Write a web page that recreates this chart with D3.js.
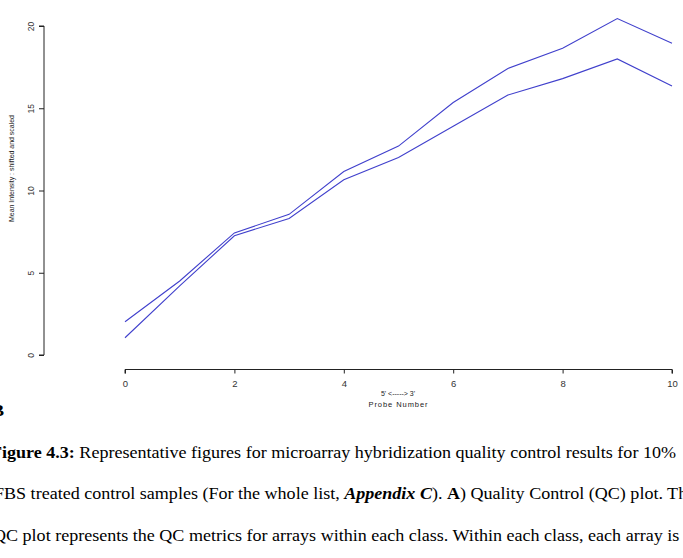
<!DOCTYPE html>
<html>
<head>
<meta charset="utf-8">
<script src="https://cdn.jsdelivr.net/npm/d3@7"></script>
<style>
  html, body { margin: 0; padding: 0; background: #fff; overflow: hidden; }
  svg { display: block; }
</style>
</head>
<body>
<svg id="chart" width="683" height="558"></svg>
<script>
// ---- data ----
const probeNumbers = [0, 1, 2, 3, 4, 5, 6, 7, 8, 9, 10];
const seriesUpper = [2.02, 4.5, 7.42, 8.55, 11.15, 12.7, 15.35, 17.42, 18.65, 20.45, 18.95];
const seriesLower = [1.05, 4.2, 7.25, 8.3, 10.65, 12.0, 13.9, 15.8, 16.8, 18.0, 16.35];
const xTicks = [0, 2, 4, 6, 8, 10];
const yTicks = [0, 5, 10, 15, 20];
const yTitle = "Mean Intensity : shifted and scaled";
const xTitle1 = "5' <-----> 3'";
const xTitle2 = "Probe Number";
const captionLines = [
  [{t: "Figure 4.3:", b: true}, {t: " Representative figures for microarray hybridization quality control results for 10%"}],
  [{t: "FBS treated control samples (For the whole list, "}, {t: "Appendix C", b: true, i: true}, {t: "). "}, {t: "A", b: true}, {t: ") Quality Control (QC) plot. The"}],
  [{t: "QC plot represents the QC metrics for arrays within each class. Within each class, each array is"}]
];

const svg = d3.select("#chart");
const x = d3.scaleLinear().domain([0, 10]).range([125, 672]);
const y = d3.scaleLinear().domain([0, 20]).range([355, 26]);

const sans = "Liberation Sans, Arial, sans-serif";

// y axis
const yAxis = svg.append("g").attr("transform", "translate(44,0)")
  .call(d3.axisLeft(y).tickValues(yTicks).tickSize(5).tickPadding(0).tickFormat(d3.format("d")));
yAxis.select(".domain").attr("d", `M-5,${y(0)}H0V${y(20)}H-5`).attr("stroke", "#222");
yAxis.selectAll(".tick line").attr("stroke", "#222");
yAxis.selectAll(".tick text")
  .attr("x", 0).attr("y", 0).attr("dy", null)
  .attr("transform", "translate(-10,0) rotate(-90)")
  .attr("text-anchor", "middle")
  .style("font-family", sans).style("font-size", "8.5px").attr("fill", "#333");

// x axis
const xAxis = svg.append("g").attr("transform", "translate(0,369.5)")
  .call(d3.axisBottom(x).tickValues(xTicks).tickSize(4).tickPadding(7).tickFormat(d3.format("d")));
xAxis.select(".domain").attr("d", `M${x(0)},4V0H${x(10)}V4`).attr("stroke", "#222");
xAxis.selectAll(".tick line").attr("stroke", "#222");
xAxis.selectAll(".tick text")
  .style("font-family", sans).style("font-size", "9.5px").attr("fill", "#333");

// axis titles
svg.append("text").attr("transform", "translate(14,168.5) rotate(-90)")
  .attr("text-anchor", "middle").style("font-family", sans).style("font-size", "7px")
  .attr("fill", "#222").attr("textLength", 107).text(yTitle);
svg.append("text").attr("x", 398).attr("y", 396).attr("text-anchor", "middle")
  .style("font-family", sans).style("font-size", "7px").attr("fill", "#222").text(xTitle1);
svg.append("text").attr("x", 398).attr("y", 407).attr("text-anchor", "middle")
  .style("font-family", sans).style("font-size", "7.5px").attr("fill", "#222")
  .attr("textLength", 59).text(xTitle2);

// lines
const line = d3.line().x((d, i) => x(probeNumbers[i])).y(d => y(d));
[seriesUpper, seriesLower].forEach(s => {
  svg.append("path").datum(s).attr("d", line)
    .attr("fill", "none").attr("stroke", "#4040cc").attr("stroke-width", 1.1);
});

// caption (source text is horizontally stretched)
const serif = "Liberation Serif, 'Times New Roman', serif";
const sx = 1.128;
const cap = svg.append("g").attr("transform", `scale(${sx},1)`);
cap.append("text").attr("x", -8 / sx).attr("y", 416).style("font-family", serif)
  .style("font-size", "16px").style("font-weight", "bold").attr("fill", "#000").text("B");
const starts = [-9, -6, -7];
const baselines = [458, 499.5, 541.5];
captionLines.forEach((ln, k) => {
  const t = cap.append("text").attr("x", starts[k] / sx).attr("y", baselines[k])
    .style("font-family", serif).style("font-size", "16px").attr("fill", "#000")
    .attr("xml:space", "preserve").style("white-space", "pre");
  ln.forEach(seg => {
    t.append("tspan").text(seg.t)
      .style("font-weight", seg.b ? "bold" : "normal")
      .style("font-style", seg.i ? "italic" : "normal");
  });
});
</script>
</body>
</html>
